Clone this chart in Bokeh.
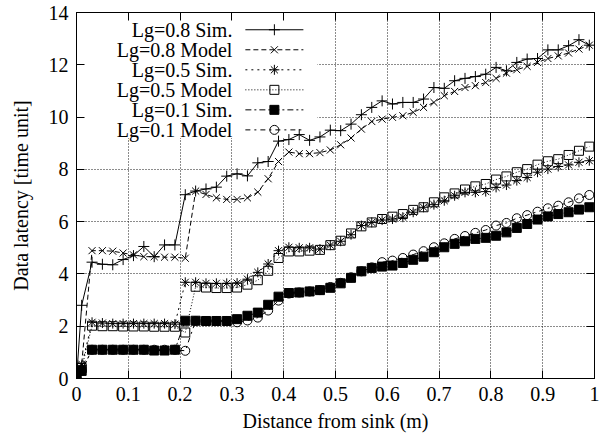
from bokeh.plotting import figure
from bokeh.models import LinearAxis, FixedTicker, BoxAnnotation
from bokeh.core.properties import value
from bokeh.embed import file_html
from bokeh.resources import INLINE

# ---------------- data ----------------
x_dist = [0.0, 0.01, 0.03, 0.05, 0.07, 0.09, 0.11, 0.13, 0.15, 0.17, 0.19,
          0.21, 0.23, 0.25, 0.27, 0.29, 0.31, 0.33, 0.35, 0.37, 0.39,
          0.41, 0.43, 0.45, 0.47, 0.49, 0.51, 0.53, 0.55, 0.57, 0.59,
          0.61, 0.63, 0.65, 0.67, 0.69, 0.71, 0.73, 0.75, 0.77, 0.79,
          0.81, 0.83, 0.85, 0.87, 0.89, 0.91, 0.93, 0.95, 0.97, 0.99]

lg08_sim = [0.0, 2.8, 4.45, 4.37, 4.35, 4.55, 4.70, 5.05, 4.66, 5.11, 5.11,
            7.03, 7.17, 7.25, 7.32, 7.74, 7.83, 7.75, 8.25, 8.30, 9.08,
            9.14, 9.33, 9.11, 9.24, 9.50, 9.48, 9.73, 10.09, 10.37, 10.62,
            10.50, 10.56, 10.56, 10.69, 11.13, 11.10, 11.39, 11.48, 11.55, 11.64,
            11.90, 11.77, 12.09, 12.22, 12.24, 12.57, 12.57, 12.73, 12.96, 12.75]

lg08_model = [0.0, 0.55, 4.89, 4.89, 4.87, 4.80, 4.73, 4.66, 4.66, 4.64, 4.64,
              4.60, 7.17, 7.04, 6.91, 6.85, 6.85, 6.91, 7.13, 7.64, 8.30,
              8.66, 8.60, 8.60, 8.64, 8.74, 8.94, 9.20, 9.54, 9.83, 9.92,
              9.99, 10.05, 10.18, 10.37, 10.56, 10.82, 10.98, 11.13, 11.20, 11.32,
              11.48, 11.68, 11.81, 11.94, 12.09, 12.24, 12.34, 12.45, 12.60, 12.75]

lg05_sim = [0.0, 0.50, 2.15, 2.12, 2.10, 2.10, 2.10, 2.10, 2.10, 2.10, 2.08,
            3.68, 3.68, 3.64, 3.64, 3.64, 3.65, 3.80, 4.06, 4.38, 4.89,
            5.02, 5.00, 5.00, 4.95, 5.10, 5.25, 5.50, 5.85, 5.97, 6.06,
            6.10, 6.17, 6.36, 6.55, 6.65, 6.80, 6.99, 7.12, 7.12, 7.15,
            7.31, 7.40, 7.57, 7.69, 7.89, 8.01, 8.11, 8.17, 8.27, 8.33]

lg05_model = [0.0, 0.40, 2.02, 2.00, 2.00, 1.99, 1.99, 1.99, 1.98, 1.98, 1.98,
              1.76, 3.51, 3.48, 3.46, 3.46, 3.48, 3.59, 3.76, 4.12, 4.61,
              4.86, 4.86, 4.89, 4.92, 5.10, 5.27, 5.55, 5.82, 5.97, 6.10,
              6.19, 6.29, 6.45, 6.55, 6.74, 6.93, 7.08, 7.23, 7.35, 7.44,
              7.61, 7.73, 7.89, 8.01, 8.18, 8.31, 8.39, 8.55, 8.71, 8.87]

lg01_sim = [0.0, 0.29, 1.10, 1.10, 1.10, 1.10, 1.10, 1.10, 1.07, 1.07, 1.10,
            2.21, 2.21, 2.20, 2.20, 2.20, 2.27, 2.40, 2.52, 2.82, 3.13,
            3.27, 3.29, 3.33, 3.38, 3.47, 3.64, 3.85, 4.10, 4.23, 4.28,
            4.32, 4.42, 4.54, 4.66, 4.83, 5.02, 5.15, 5.25, 5.34, 5.38,
            5.46, 5.59, 5.76, 5.91, 6.08, 6.20, 6.29, 6.36, 6.46, 6.55]

lg01_model = [0.0, 0.30, 1.10, 1.10, 1.10, 1.10, 1.10, 1.10, 1.10, 1.10, 1.10,
              1.06, 2.20, 2.20, 2.20, 2.20, 2.15, 2.22, 2.33, 2.60, 2.98,
              3.25, 3.29, 3.33, 3.38, 3.50, 3.66, 3.87, 4.10, 4.25, 4.45,
              4.51, 4.61, 4.74, 4.87, 5.02, 5.17, 5.34, 5.45, 5.57, 5.68,
              5.85, 5.95, 6.13, 6.25, 6.38, 6.51, 6.61, 6.74, 6.89, 7.02]

series_labels = ["Lg=0.8 Sim.", "Lg=0.8 Model", "Lg=0.5 Sim.",
                 "Lg=0.5 Model", "Lg=0.1 Sim.", "Lg=0.1 Model"]
series_values = [lg08_sim, lg08_model, lg05_sim, lg05_model, lg01_sim, lg01_model]

x_ticks = [0.0, 0.1, 0.2, 0.3, 0.4, 0.5, 0.6, 0.7, 0.8, 0.9, 1.0]
x_tick_labels = ["0", "0.1", "0.2", "0.3", "0.4", "0.5", "0.6", "0.7", "0.8", "0.9", "1"]
y_ticks = [0, 2, 4, 6, 8, 10, 12, 14]

# ---------------- styles ----------------
FONT = "Liberation Serif"
FS = "20px"
dashes = ["solid", "5 3", "2 4", "1 2", "6 3 2 3", "5 4 2 4"]
markers = ["cross", "x", "asterisk", "square", "square", "circle"]
msizes = [11, 10, 10, 9, 9, 9]
mfills = [None, None, None, None, "black", None]

p = figure(width=604, height=438, x_range=(0, 1), y_range=(0, 14),
           output_backend="svg", toolbar_location=None,
           min_border_left=76, min_border_right=10, min_border_top=12,
           min_border_bottom=60)
p.background_fill_color = "white"
p.border_fill_color = "white"
p.outline_line_color = "black"
p.outline_line_width = 1

p.xaxis.ticker = FixedTicker(ticks=x_ticks)
p.xaxis.major_label_overrides = dict(zip(x_ticks, x_tick_labels))
p.yaxis.ticker = FixedTicker(ticks=y_ticks)
for ax in (p.xaxis[0], p.yaxis[0]):
    ax.major_tick_in = 8
    ax.major_tick_out = 0
    ax.minor_tick_line_color = None
    ax.axis_line_color = "black"
    ax.major_tick_line_color = "black"
    ax.major_label_text_font = FONT
    ax.major_label_text_font_size = FS
    ax.major_label_text_color = "black"
    ax.axis_label_text_font = FONT
    ax.axis_label_text_font_size = FS
    ax.axis_label_text_font_style = "normal"
    ax.axis_label_text_color = "black"
p.xaxis.axis_label = "Distance from sink (m)"
p.yaxis.axis_label = "Data latency [time unit]"
p.xaxis.major_label_standoff = 8
p.yaxis.major_label_standoff = 8
p.xaxis.axis_label_standoff = 6
p.yaxis.axis_label_standoff = 14

# mirrored ticks (no labels)
top_ax = LinearAxis(ticker=FixedTicker(ticks=x_ticks))
right_ax = LinearAxis(ticker=FixedTicker(ticks=y_ticks))
for ax in (top_ax, right_ax):
    ax.major_tick_in = 8
    ax.major_tick_out = 0
    ax.minor_tick_line_color = None
    ax.major_label_text_font_size = "1px"
    ax.major_label_text_color = None
    ax.major_label_standoff = 0
    ax.axis_line_color = "black"
    ax.major_tick_line_color = "black"
p.add_layout(top_ax, "above")
p.add_layout(right_ax, "right")

p.xgrid.ticker = FixedTicker(ticks=x_ticks)
p.ygrid.ticker = FixedTicker(ticks=y_ticks)
for g in (p.xgrid[0], p.ygrid[0]):
    g.grid_line_color = "black"
    g.grid_line_dash = "1 2"
    g.grid_line_width = 1
    g.grid_line_alpha = 0.9

# white box behind legend
p.add_layout(BoxAnnotation(left=0, right=0.465, bottom=9.2, top=14,
                           fill_color="white", fill_alpha=1.0,
                           line_alpha=0, level="underlay"))

# data
for vals, d, m, s, f in zip(series_values, dashes, markers, msizes, mfills):
    p.line(x_dist, vals, line_color="black", line_width=1, line_dash=d)
    p.scatter(x_dist, vals, marker=m, size=s, line_color="black",
              line_width=1, fill_color=f)

# legend (positions in data units)
leg_top, leg_step = 13.34, 0.766
leg_text_x, leg_x0, leg_x1 = 0.301, 0.326, 0.438
leg_mx = (leg_x0 + leg_x1) / 2
leg_y = [leg_top - i * leg_step for i in range(len(series_labels))]
p.text(x=[leg_text_x] * len(series_labels), y=leg_y, text=series_labels,
       text_font=value(FONT), text_font_size=value(FS),
       text_align="right", text_baseline="middle", text_color="black")
for yy, d, m, s, f in zip(leg_y, dashes, markers, msizes, mfills):
    p.segment(x0=[leg_x0], y0=[yy], x1=[leg_x1], y1=[yy],
              line_color="black", line_width=1, line_dash=d)
    p.scatter([leg_mx], [yy], marker=m, size=s, line_color="black",
              line_width=1, fill_color=f)

open("out.html", "w").write(file_html(p, INLINE))
